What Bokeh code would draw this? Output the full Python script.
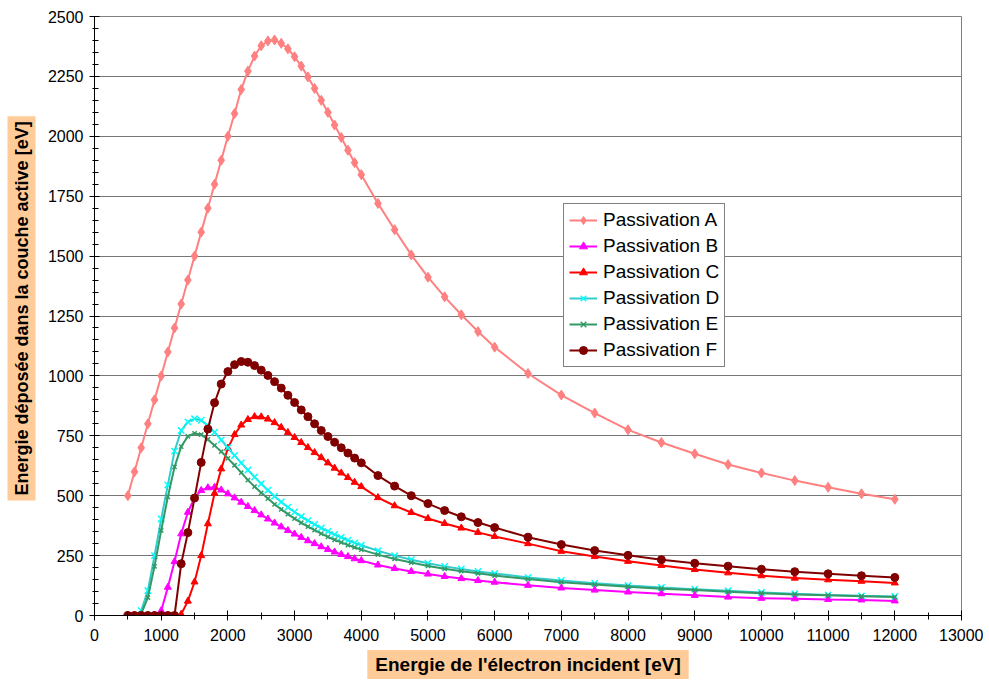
from bokeh.plotting import figure
from bokeh.models import Range1d, FixedTicker, Title, Legend, LegendItem
from bokeh.embed import file_html
from bokeh.resources import INLINE

# ---------------- data ----------------
energy = [500, 600, 700, 800, 900, 1000, 1100, 1200, 1300, 1400, 1500, 1600, 1700, 1800, 1900, 2000,
          2100, 2200, 2300, 2400, 2500, 2600, 2700, 2800, 2900, 3000, 3100, 3200, 3300, 3400, 3500,
          3600, 3700, 3800, 3900, 4000,
          4250, 4500, 4750, 5000, 5250, 5500, 5750, 6000,
          6500, 7000, 7500, 8000, 8500, 9000, 9500, 10000, 10500, 11000, 11500, 12000]

pass_a = [500, 600, 700, 800, 900, 1000, 1100, 1200, 1300, 1400, 1500, 1600, 1700, 1800, 1900, 2000,
          2095, 2195, 2272, 2335, 2378, 2398, 2402, 2388, 2365, 2332, 2293, 2248, 2200, 2150, 2100,
          2047, 1995, 1942, 1890, 1840,
          1720, 1610, 1505, 1412, 1330, 1255, 1185, 1120,
          1010, 920, 845, 775, 722, 675, 630, 595, 563, 535, 508, 485]

pass_b = [0, 0, 0, 0, 0, 20, 118, 225, 341, 431, 491, 522, 533, 535, 524, 508,
          491, 473, 455, 438, 420, 403, 386, 370, 355, 340, 326, 312, 300, 287, 276,
          265, 255, 246, 237, 229,
          211, 196, 184, 173, 163, 154, 146, 139,
          126, 115, 106, 98, 91, 84, 77, 72, 70, 67, 65, 61]

pass_c = [0, 0, 0, 0, 0, 0, 0, 0, 5, 60, 140, 250, 383, 510, 612, 698,
          755, 795, 818, 830, 829, 820, 805, 785, 764, 743, 722, 701, 680, 659, 637,
          615, 595, 576, 556, 538,
          492, 458, 430, 405, 384, 365, 347, 330,
          300, 268, 246, 226, 209, 192, 178, 166, 156, 149, 143, 136]

pass_d = [0, 0, 20, 104, 250, 403, 545, 686, 772, 808, 821, 815, 793, 765, 733, 700,
          668, 637, 607, 578, 550, 523, 498, 474, 452, 432, 413, 396, 380, 365, 351,
          338, 326, 314, 303, 293,
          270, 250, 233, 218, 205, 194, 184, 175,
          159, 146, 135, 125, 117, 110, 103, 96, 91, 86, 82, 79]

pass_e = [0, 0, 8, 75, 205, 355, 495, 620, 705, 748, 760, 755, 735, 710, 684, 656,
          627, 596, 565, 538, 512, 488, 464, 443, 423, 404, 387, 371, 356, 342, 328,
          316, 305, 294, 284, 275,
          254, 236, 221, 207, 195, 185, 176, 167,
          152, 139, 129, 120, 112, 106, 99, 93, 88, 84, 80, 77]

pass_f = [0, 0, 0, 0, 0, 0, 0, 0, 216, 346, 490, 639, 778, 888, 966, 1018,
          1047, 1060, 1057, 1043, 1024, 1002, 976, 949, 919, 889, 858, 830, 800, 772, 747,
          723, 700, 678, 657, 637,
          584, 540, 500, 467, 438, 412, 388, 367,
          327, 296, 271, 251, 233, 218, 206, 193, 183, 174, 166, 159]

series_labels = ["Passivation A", "Passivation B", "Passivation C",
                 "Passivation D", "Passivation E", "Passivation F"]

x_major_ticks = [0, 1000, 2000, 3000, 4000, 5000, 6000, 7000, 8000, 9000, 10000, 11000, 12000, 13000]
x_minor_ticks = [0, 500, 1000, 1500, 2000, 2500, 3000, 3500, 4000, 4500, 5000, 5500, 6000, 6500,
                 7000, 7500, 8000, 8500, 9000, 9500, 10000, 10500, 11000, 11500, 12000, 12500, 13000]
y_major_ticks = [0, 250, 500, 750, 1000, 1250, 1500, 1750, 2000, 2250, 2500]
y_minor_ticks = list(range(0, 2501, 50))

x_title = "Energie de l'électron incident [eV]"
y_title = "Energie déposée dans la couche active [eV]"

FONT = "Liberation Sans"

# ---------------- figure ----------------
p = figure(width=983, height=684,
           x_range=Range1d(0, 13000), y_range=Range1d(0, 2500),
           output_backend="svg", toolbar_location=None,
           min_border_left=94, min_border_right=22,
           min_border_top=16, min_border_bottom=69)
p.background_fill_color = "white"
p.border_fill_color = "white"
p.outline_line_color = "#808080"
p.outline_line_width = 1

p.xgrid.visible = False
p.ygrid.ticker = FixedTicker(ticks=y_major_ticks)
p.ygrid.grid_line_color = "#777777"
p.ygrid.grid_line_width = 1

for ax in (p.xaxis[0], p.yaxis[0]):
    ax.axis_line_color = "black"
    ax.axis_line_width = 1
    ax.major_tick_line_color = "black"
    ax.minor_tick_line_color = "black"
    ax.major_label_text_font = FONT
    ax.major_label_text_font_size = "16px"
    ax.major_label_text_color = "black"

p.xaxis.ticker = FixedTicker(ticks=x_major_ticks, minor_ticks=x_minor_ticks)
p.xaxis.major_tick_in = 5
p.xaxis.major_tick_out = 5
p.xaxis.minor_tick_in = 3
p.xaxis.minor_tick_out = 4
p.xaxis.major_label_standoff = 8

p.yaxis.ticker = FixedTicker(ticks=y_major_ticks, minor_ticks=y_minor_ticks)
p.yaxis.major_tick_in = 5
p.yaxis.major_tick_out = 5
p.yaxis.minor_tick_in = 4
p.yaxis.minor_tick_out = 2
p.yaxis.major_label_standoff = 6

# ---------------- series ----------------
styles = [
    (pass_a, "#FF8080", "#FF8080", "diamond", 10),
    (pass_b, "#FF00FF", "#FF00FF", "triangle", 7),
    (pass_c, "#FF0000", "#FF0000", "triangle", 7),
    (pass_d, "#33CCCC", "#00FFFF", "x", 9),
    (pass_e, "#339966", "#339966", "x", 6),
    (pass_f, "#800000", "#800000", "circle", 8),
]

items = []
for (vals, lcol, mcol, marker, size), lab in zip(styles, series_labels):
    r_line = p.line(energy, vals, line_color=lcol, line_width=2)
    r_mark = p.scatter(energy, vals, marker=marker, size=size,
                       fill_color=mcol, line_color=mcol,
                       line_width=1.5 if marker == "x" else 1)
    items.append(LegendItem(label=lab, renderers=[r_line, r_mark]))

legend = Legend(items=items, location=(469, 248))
legend.border_line_color = "black"
legend.border_line_width = 1
legend.background_fill_color = "white"
legend.background_fill_alpha = 1
legend.label_text_font = FONT
legend.label_text_font_size = "19px"
legend.label_text_color = "black"
legend.glyph_width = 28
legend.glyph_height = 20
legend.label_height = 20
legend.spacing = 4
legend.padding = 5
legend.margin = 0
legend.label_standoff = 6
p.add_layout(legend)

# ---------------- axis titles with orange boxes ----------------
xt = Title(text=x_title, align="center", vertical_align="bottom",
           text_font=FONT, text_font_style="bold",
           text_font_size="19px", text_color="black",
           background_fill_color="#FFCC99", padding=(8, 4), standoff=9)
p.add_layout(xt, "below")

yt = Title(text=y_title, align="left", vertical_align="top", offset=115,
           text_font=FONT, text_font_style="bold",
           text_font_size="18px", text_color="black",
           background_fill_color="#FFCC99", padding=(5, 4), standoff=10)
p.add_layout(yt, "left")

open("out.html", "w").write(file_html(p, INLINE))
